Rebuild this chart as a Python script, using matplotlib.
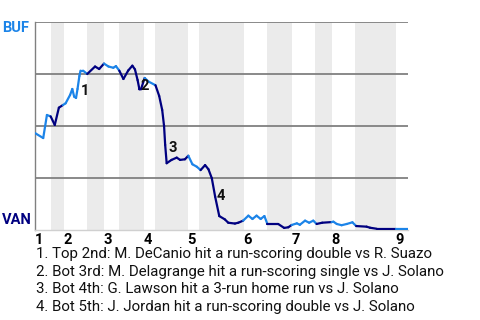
import numpy as np
import matplotlib
matplotlib.use("Agg")
import matplotlib.pyplot as plt
from matplotlib.collections import LineCollection

# win probability for BUF (1 = BUF wins, 0 = VAN wins), x in event units 0..100
event_x = [0.0, 2.2, 3.2, 4.2, 5.3, 6.4, 7.5, 8.2, 9.4, 10.0, 10.5, 11.0, 11.4, 11.9,
           12.2, 12.9, 14.0, 16.1, 17.2, 18.5, 19.7, 21.0, 21.7, 22.6, 23.7, 25.0,
           26.1, 26.8, 27.5, 28.0, 28.4, 29.4, 30.4, 32.3, 33.3, 34.1, 34.6, 34.9,
           35.3, 36.6, 38.0, 38.9, 40.2, 41.1, 42.2, 43.4, 44.4, 45.6, 46.5, 47.4,
           48.3, 49.4, 50.9, 51.8, 53.6, 54.5, 55.8, 57.2, 58.3, 59.4, 60.5, 61.5,
           62.3, 65.2, 66.8, 67.9, 68.8, 70.2, 71.0, 72.4, 73.5, 74.6, 75.5, 77.0,
           79.5, 80.0, 80.9, 82.2, 83.6, 85.1, 86.1, 88.9, 89.8, 91.6, 96.8, 100.0]
win_prob = [0.466, 0.442, 0.553, 0.546, 0.505, 0.588, 0.601, 0.609, 0.649, 0.678, 0.641,
            0.635, 0.678, 0.740, 0.766, 0.766, 0.750, 0.786, 0.774, 0.800, 0.786, 0.780,
            0.788, 0.766, 0.726, 0.767, 0.790, 0.772, 0.721, 0.676, 0.676, 0.731, 0.714,
            0.696, 0.644, 0.577, 0.500, 0.409, 0.321, 0.337, 0.348, 0.337, 0.340, 0.357,
            0.316, 0.304, 0.288, 0.312, 0.292, 0.249, 0.160, 0.067, 0.051, 0.035, 0.031,
            0.035, 0.045, 0.069, 0.053, 0.069, 0.053, 0.067, 0.029, 0.029, 0.010, 0.013,
            0.024, 0.032, 0.025, 0.045, 0.035, 0.045, 0.029, 0.035, 0.038, 0.040, 0.029,
            0.023, 0.029, 0.037, 0.019, 0.016, 0.011, 0.006, 0.006, 0.006]

# half-inning boundaries (top 1, bot 1, top 2, ... top 9)
half_innings = [0.0, 4.29, 7.77, 13.94, 18.50, 22.52, 29.22, 32.17, 41.02, 43.97,
                56.03, 62.20, 68.90, 75.07, 79.62, 85.79, 96.78, 100.0]
innings = ["1", "2", "3", "4", "5", "6", "7", "8", "9"]

# key plays: label, x, win prob of label
key_labels = ["1", "2", "3", "4"]
key_x = [12.3, 28.2, 35.7, 48.7]
key_y = [0.666, 0.690, 0.394, 0.163]
captions = [
    "1. Top 2nd: M. DeCanio hit a run-scoring double vs R. Suazo",
    "2. Bot 3rd: M. Delagrange hit a run-scoring single vs J. Solano",
    "3. Bot 4th: G. Lawson hit a 3-run home run vs J. Solano",
    "4. Bot 5th: J. Jordan hit a run-scoring double vs J. Solano",
]

BUF_BLUE = "#1c84e8"
VAN_NAVY = "#000080"

plt.rcParams["font.family"] = ["Roboto", "DejaVu Sans"]

fig = plt.figure(figsize=(4.8, 3.2), dpi=100)
ax = fig.add_axes([35 / 480, 90 / 320, 373 / 480, 208 / 320])
ax.set_xlim(0, 100)
ax.set_ylim(0, 1)

# shaded bottom half-innings
for i in range(1, len(half_innings) - 1, 2):
    ax.axvspan(half_innings[i], half_innings[i + 1], color="#ebebeb", lw=0, zorder=0)

for g in [0.25, 0.5, 0.75, 1.0]:
    ax.axhline(g, color="#808080", lw=1.3, zorder=1)

# colour each segment by who is batting
x = np.array(event_x)
y = np.array(win_prob)
segs = np.stack([np.column_stack([x[:-1], y[:-1]]), np.column_stack([x[1:], y[1:]])], axis=1)
mids = (x[:-1] + x[1:]) / 2
half = np.searchsorted(half_innings, mids) - 1
colors = [BUF_BLUE if h % 2 == 0 else VAN_NAVY for h in half]
ax.add_collection(LineCollection(segs, colors=colors, linewidths=1.6, zorder=3,
                                 capstyle="round", joinstyle="round"))

for lab, kx, ky in zip(key_labels, key_x, key_y):
    ax.text(kx, ky, lab, fontsize=10.5, fontweight="bold", color="#111111",
            ha="left", va="center", zorder=4)

for s in ["top", "right"]:
    ax.spines[s].set_visible(False)
ax.spines["left"].set_color("#808080")
ax.spines["left"].set_linewidth(1.0)
ax.spines["bottom"].set_color("#d0d0d0")
ax.spines["bottom"].set_linewidth(1.0)

ax.set_yticks([])
ax.set_xticks([half_innings[i] + 1.0 for i in range(0, 17, 2)])
ax.set_xticklabels(innings, fontsize=10.5, fontweight="bold")
ax.tick_params(axis="x", length=0, pad=2)

ax.text(-0.015, 0.97, "BUF", transform=ax.transAxes, ha="right", va="center",
        fontsize=10.5, fontweight="bold", color=BUF_BLUE)
ax.text(-0.008, 0.048, "VAN", transform=ax.transAxes, ha="right", va="center",
        fontsize=10.5, fontweight="bold", color=VAN_NAVY)

for i, cap in enumerate(captions):
    fig.text(36.5 / 480, (320 - 254.3 - i * 17.4) / 320, cap, fontsize=10.8,
             ha="left", va="center", color="#111111")

fig.savefig("out.png", dpi=100)
